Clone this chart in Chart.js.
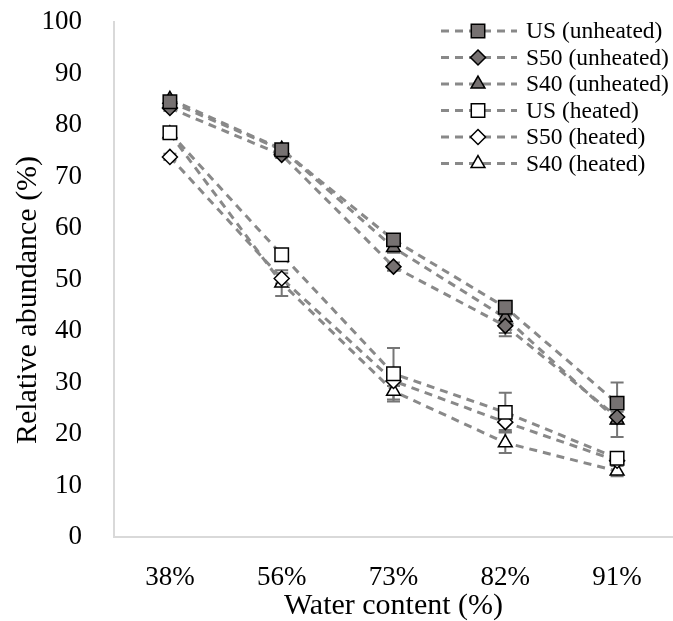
<!DOCTYPE html>
<html>
<head>
<meta charset="utf-8">
<script src="https://cdn.jsdelivr.net/npm/chart.js"></script>
<style>
  body { margin: 0; background: #fff; }
  #wrap { width: 673px; height: 621px; }
</style>
</head>
<body>
<div id="wrap"><canvas id="myChart" width="673" height="621"></canvas></div>
<script>
  const waterContent = ['38%', '56%', '73%', '82%', '91%'];

  const usUnheated = [84.5, 75.2, 57.7, 44.6, 26.0];
  const s50Unheated = [83.3, 74.2, 52.5, 41.0, 23.3];
  const s40Unheated = [85.0, 75.3, 56.2, 42.6, 22.7];
  const usHeated = [78.5, 54.8, 31.7, 24.2, 15.3];
  const s50Heated = [73.8, 50.2, 30.3, 22.3, 14.8];
  const s40Heated = [78.3, 49.3, 28.3, 18.3, 12.8];

  // error bar half-widths (same units as the values)
  const usUnheatedErr = [0.8, 0.8, 1.0, 1.0, 4.0];
  const s50UnheatedErr = [0.6, 0.6, 0.8, 2.0, 1.0];
  const s40UnheatedErr = [0.6, 0.6, 1.0, 3.0, 3.3];
  const usHeatedErr = [1.0, 1.0, 5.0, 3.8, 1.0];
  const s50HeatedErr = [0.6, 1.0, 1.0, 1.5, 0.8];
  const s40HeatedErr = [1.0, 2.5, 2.0, 2.0, 1.0];

  const fill = '#767171';
  const lineGrey = '#898989';
  const font = 'Liberation Serif';

  function series(label, values, errors, style, filled, radius) {
    return {
      label: label,
      data: values,
      errors: errors,
      borderColor: lineGrey,
      borderWidth: 3,
      borderDash: [8, 6],
      pointStyle: style,
      pointRadius: radius,
      pointHoverRadius: radius,
      pointBackgroundColor: filled ? fill : '#ffffff',
      pointBorderColor: '#000000',
      pointBorderWidth: 1.5,
      fill: false,
      tension: 0,
    };
  }

  const data = {
    labels: waterContent,
    datasets: [
      series('US (unheated)', usUnheated, usUnheatedErr, 'rect', true, 9.5),
      series('S50 (unheated)', s50Unheated, s50UnheatedErr, 'rectRot', true, 7.5),
      series('S40 (unheated)', s40Unheated, s40UnheatedErr, 'triangle', true, 8),
      series('US (heated)', usHeated, usHeatedErr, 'rect', false, 9.5),
      series('S50 (heated)', s50Heated, s50HeatedErr, 'rectRot', false, 7.5),
      series('S40 (heated)', s40Heated, s40HeatedErr, 'triangle', false, 8),
    ],
  };

  // vertical error bars, drawn under the markers
  const errorBars = {
    id: 'errorBars',
    beforeDatasetsDraw(chart) {
      const ctx = chart.ctx;
      const y = chart.scales.y;
      ctx.save();
      ctx.strokeStyle = '#767676';
      ctx.lineWidth = 2;
      chart.data.datasets.forEach((ds, i) => {
        const meta = chart.getDatasetMeta(i);
        meta.data.forEach((pt, j) => {
          const e = ds.errors[j];
          const top = y.getPixelForValue(ds.data[j] + e);
          const bot = y.getPixelForValue(ds.data[j] - e);
          ctx.beginPath();
          ctx.moveTo(pt.x, top);
          ctx.lineTo(pt.x, bot);
          ctx.moveTo(pt.x - 6.5, top);
          ctx.lineTo(pt.x + 6.5, top);
          ctx.moveTo(pt.x - 6.5, bot);
          ctx.lineTo(pt.x + 6.5, bot);
          ctx.stroke();
        });
      });
      ctx.restore();
    },
  };

  function marker(ctx, style, x, y, r) {
    ctx.beginPath();
    if (style === 'rect') {
      const s = r * Math.SQRT1_2;
      ctx.rect(x - s, y - s, 2 * s, 2 * s);
    } else if (style === 'rectRot') {
      ctx.moveTo(x, y - r);
      ctx.lineTo(x + r, y);
      ctx.lineTo(x, y + r);
      ctx.lineTo(x - r, y);
      ctx.closePath();
    } else {
      const h = r * Math.sqrt(3) / 2;
      ctx.moveTo(x, y - r);
      ctx.lineTo(x + h, y + r / 2);
      ctx.lineTo(x - h, y + r / 2);
      ctx.closePath();
    }
    ctx.fill();
    ctx.stroke();
  }

  // legend at top right, Excel style: dashed line sample with marker,
  // plus the y axis title, which Excel centres lower than the plot middle
  const sideLegend = {
    id: 'sideLegend',
    afterDraw(chart) {
      const ctx = chart.ctx;
      ctx.save();
      chart.data.datasets.forEach((ds, i) => {
        const y = 31 + i * 26.5;
        ctx.strokeStyle = lineGrey;
        ctx.lineWidth = 3;
        ctx.setLineDash([8, 6]);
        ctx.beginPath();
        ctx.moveTo(441, y);
        ctx.lineTo(517, y);
        ctx.stroke();
        ctx.setLineDash([]);
        ctx.fillStyle = ds.pointBackgroundColor;
        ctx.strokeStyle = '#000';
        ctx.lineWidth = 1.5;
        marker(ctx, ds.pointStyle, 478, y, ds.pointRadius);
        ctx.fillStyle = '#000';
        ctx.font = '23.5px "' + font + '"';
        ctx.textAlign = 'left';
        ctx.textBaseline = 'middle';
        ctx.fillText(ds.label, 526, y + 1);
      });

      ctx.translate(28, 300);
      ctx.rotate(-Math.PI / 2);
      ctx.font = '30px "' + font + '"';
      ctx.textAlign = 'center';
      ctx.textBaseline = 'middle';
      ctx.fillText('Relative abundance (%)', 0, 0);
      ctx.restore();
    },
  };

  const config = {
    type: 'line',
    data: data,
    options: {
      responsive: false,
      animation: false,
      layout: {
        autoPadding: false,
        padding: { top: 22, right: 0, bottom: 0, left: 0 },
      },
      plugins: {
        legend: { display: false },
        tooltip: { enabled: false },
      },
      scales: {
        x: {
          offset: true,
          grid: { display: false },
          border: { display: true, color: '#d9d9d9', width: 2 },
          ticks: {
            color: '#000',
            padding: 17,
            font: { family: font, size: 27 },
          },
          title: {
            display: true,
            text: 'Water content (%)',
            color: '#000',
            padding: { top: 0, bottom: 0 },
            font: { family: font, size: 30, lineHeight: 1 },
          },
          afterFit(scale) {
            scale.height = 84;
            scale.paddingLeft = 0;
            scale.paddingRight = 0;
          },
        },
        y: {
          min: 0,
          max: 100,
          grid: { display: false },
          border: { display: true, color: '#d9d9d9', width: 2 },
          ticks: {
            stepSize: 10,
            color: '#000',
            padding: 24,
            font: { family: font, size: 27 },
          },
          afterFit(scale) {
            scale.width = 114;
            scale.paddingTop = 0;
            scale.paddingBottom = 0;
          },
        },
      },
    },
    plugins: [errorBars, sideLegend],
  };

  var myChart = new Chart(document.getElementById('myChart'), config);
</script>
</body>
</html>
